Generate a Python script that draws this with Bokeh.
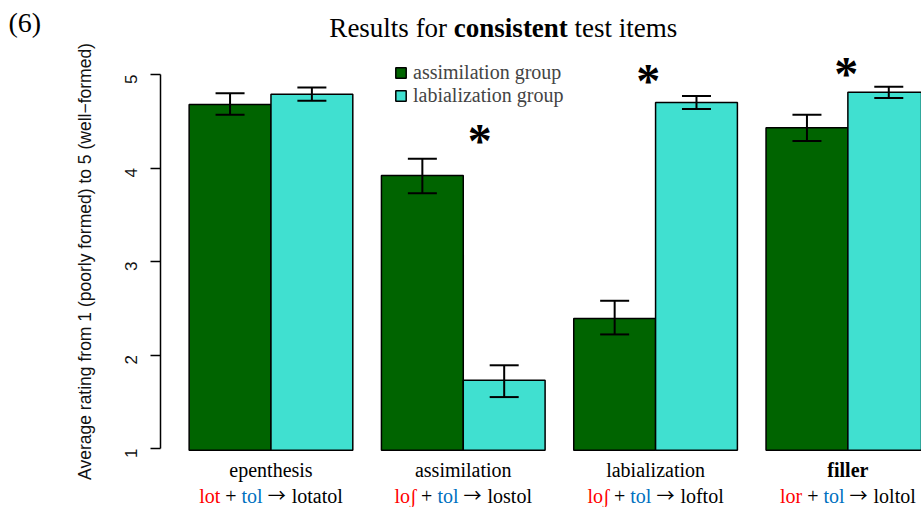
import math
from bokeh.plotting import figure
from bokeh.models import (ColumnDataSource, Whisker, TeeHead, Legend, LegendItem,
                          FixedTicker, LinearAxis, Range1d)
from bokeh.core.properties import value
from bokeh.embed import file_html
from bokeh.resources import INLINE

# ---------------- data ----------------
categories = ["epenthesis", "assimilation", "labialization", "filler"]
cat_bold = [False, False, False, True]
ex_input = ["lot", "loʃ", "loʃ", "lor"]
ex_second = ["tol", "tol", "tol", "tol"]
ex_output = ["lotatol", "lostol", "loftol", "loltol"]

assim_mean = [4.68, 3.92, 2.39, 4.43]
assim_lo = [4.57, 3.73, 2.22, 4.29]
assim_hi = [4.80, 4.10, 2.58, 4.57]

labial_mean = [4.79, 1.73, 4.70, 4.81]
labial_lo = [4.72, 1.55, 4.63, 4.75]
labial_hi = [4.86, 1.89, 4.77, 4.87]

series_names = ["assimilation group", "labialization group"]
star_group = [1, 2, 3]
star_value = [4.35, 4.99, 5.06]
star_shift = [0.20, -0.09, -0.02]

y_ticks = [1, 2, 3, 4, 5]
y_label = "Average rating from 1 (poorly formed) to 5 (well\u2212formed)"
title_parts = [("Results for", "normal"), ("consistent", "bold"), ("test items", "normal")]
panel_tag = "(6)"

# ---------------- layout ----------------
GREEN = "#006400"
TURQ = "#40E0D0"
RED = "#FF0000"
BLUE = "#0070C0"
SERIF = "Liberation Serif"
SANS = "Liberation Sans"
ARROW_FONT = "Noto Sans CJK JP"

W, H = 921, 507
PX_X = 81.83            # pixels per bar width
PX_Y = 93.5             # pixels per rating unit
AXIS_PX = 160           # pixel column of the y axis
Y5_PX, Y1_PX = 74, 448
X0 = -AXIS_PX / PX_X
X1 = (W - AXIS_PX) / PX_X
Y1 = 5 + Y5_PX / PX_Y
Y0 = 1 - (H - Y1_PX) / PX_Y
GAP = 0.35
BAR_BOTTOM = 0.98

# Times / Liberation Serif advance widths (em)
REG = {' ': .25, '+': .564, 'l': .278, 'o': .5, 't': .278, '\u0283': .30,
       'r': .333, 'a': .444, 's': .389, 'f': .333, 'e': .444, 'R': .667, 'u': .5,
       'c': .444, 'n': .5, 'i': .278, 'm': .778}
BOLD = {' ': .25, 'c': .444, 'o': .5, 'n': .556, 's': .389, 'i': .278, 't': .333, 'e': .444}
ARROW_W = 1.0


def width_px(txt, fs, bold=False):
    tab = BOLD if bold else REG
    return sum(tab.get(ch, .5) for ch in txt) * fs


p = figure(width=W, height=H, x_range=Range1d(X0, X1), y_range=Range1d(Y0, Y1),
           x_axis_location=None, y_axis_location=None,
           output_backend="svg", toolbar_location=None,
           min_border_left=0, min_border_right=0, min_border_top=0, min_border_bottom=0)
p.outline_line_color = None
p.grid.visible = False
p.background_fill_color = "white"

# bar positions
n = len(categories)
stride = 2 + GAP
left_x = [GAP + i * stride + 0.5 for i in range(n)]
right_x = [GAP + i * stride + 1.5 for i in range(n)]
centers = [GAP + i * stride + 1.0 for i in range(n)]

src_a = ColumnDataSource(dict(x=left_x, top=assim_mean, lo=assim_lo, hi=assim_hi))
src_b = ColumnDataSource(dict(x=right_x, top=labial_mean, lo=labial_lo, hi=labial_hi))

r_a = p.vbar(x="x", top="top", bottom=BAR_BOTTOM, width=1.0, source=src_a,
             fill_color=GREEN, line_color="black", line_width=1.5)
r_b = p.vbar(x="x", top="top", bottom=BAR_BOTTOM, width=1.0, source=src_b,
             fill_color=TURQ, line_color="black", line_width=1.5)

for s in (src_a, src_b):
    p.add_layout(Whisker(source=s, base="x", upper="hi", lower="lo", line_width=2,
                         level="overlay",
                         upper_head=TeeHead(size=29, line_width=2),
                         lower_head=TeeHead(size=29, line_width=2)))

# y axis (R style, detached, bounded 1..5)
ax = LinearAxis(fixed_location=0.0)
ax.ticker = FixedTicker(ticks=y_ticks)
ax.bounds = (1, 5)
ax.major_label_orientation = math.pi / 2
ax.major_tick_out = 10
ax.major_tick_in = 0
ax.minor_tick_line_color = None
ax.axis_line_width = 1.5
ax.major_tick_line_width = 1.5
ax.major_label_text_font = SANS
ax.major_label_text_font_size = "17px"
ax.major_label_text_color = "#111111"
ax.major_label_standoff = 20
ax.axis_label = y_label
ax.axis_label_text_font = SANS
ax.axis_label_text_font_size = "17.5px"
ax.axis_label_text_font_style = "normal"
ax.axis_label_text_color = "#111111"
ax.axis_label_standoff = 21
p.add_layout(ax, "left")

# asterisks
star_fs = 48
p.text(x=[centers[g] + d for g, d in zip(star_group, star_shift)], y=star_value,
       text=["*"] * len(star_group), text_font=value(SERIF), text_font_style="bold",
       text_font_size=f"{star_fs}px", text_align="center", text_baseline="alphabetic",
       y_offset=5, text_color="black")

# category labels, line 1
CAT_Y1, CAT_Y2 = 0.765, 0.490
LAB_FS = 20
ARROW_FS = 18
for c, name, b in zip(centers, categories, cat_bold):
    p.text(x=[c], y=[CAT_Y1], text=[name], text_font=value(SERIF),
           text_font_style="bold" if b else "normal", text_font_size=f"{LAB_FS}px",
           text_align="center", text_baseline="alphabetic", text_color="black")

# category labels, line 2 (coloured pieces)
sp = width_px(" ", LAB_FS)
for c, a, bb, o in zip(centers, ex_input, ex_second, ex_output):
    pieces = [(a, RED, SERIF, LAB_FS, width_px(a, LAB_FS), 0),
              ("+", "black", SERIF, LAB_FS, width_px("+", LAB_FS), 0),
              (bb, BLUE, SERIF, LAB_FS, width_px(bb, LAB_FS), 0),
              ("\u2192", "black", ARROW_FONT, ARROW_FS, ARROW_W * ARROW_FS + 1, -2),
              (o, "black", SERIF, LAB_FS, width_px(o, LAB_FS), 0)]
    total = sum(pc[4] for pc in pieces) + (len(pieces) - 1) * sp
    xpx = c * PX_X - total / 2
    for t, col, fnt, fs, wpx, yoff in pieces:
        p.text(x=[xpx / PX_X], y=[CAT_Y2], text=[t], text_font=value(fnt),
               text_font_size=f"{fs}px", text_align="left", text_baseline="alphabetic",
               y_offset=yoff, text_color=col)
        xpx += wpx + sp

# title
TITLE_X, TITLE_Y, TITLE_FS = 4.19, 5.492, 27
tw = sum(width_px(t, TITLE_FS, s == "bold") for t, s in title_parts) + 2 * width_px(" ", TITLE_FS)
xpx = TITLE_X * PX_X - tw / 2
for t, s in title_parts:
    p.text(x=[xpx / PX_X], y=[TITLE_Y], text=[t], text_font=value(SERIF),
           text_font_style=s, text_font_size=f"{TITLE_FS}px", text_align="left",
           text_baseline="alphabetic", text_color="black")
    xpx += width_px(t, TITLE_FS, s == "bold") + width_px(" ", TITLE_FS)

# panel tag
p.text(x=[-1.858], y=[5.555], text=[panel_tag], text_font=value(SERIF),
       text_font_size="28px", text_baseline="alphabetic", text_align="left",
       text_color="black")

# legend
legend = Legend(items=[LegendItem(label=series_names[0], renderers=[r_a]),
                       LegendItem(label=series_names[1], renderers=[r_b])],
                location=(394, 400), orientation="vertical",
                label_text_font=SERIF, label_text_font_size="20px",
                glyph_width=13, glyph_height=13, label_standoff=6,
                label_height=23, spacing=0, padding=0, margin=0,
                border_line_color=None, background_fill_alpha=0)
p.add_layout(legend, "center")

open("out.html", "w").write(file_html(p, INLINE))
